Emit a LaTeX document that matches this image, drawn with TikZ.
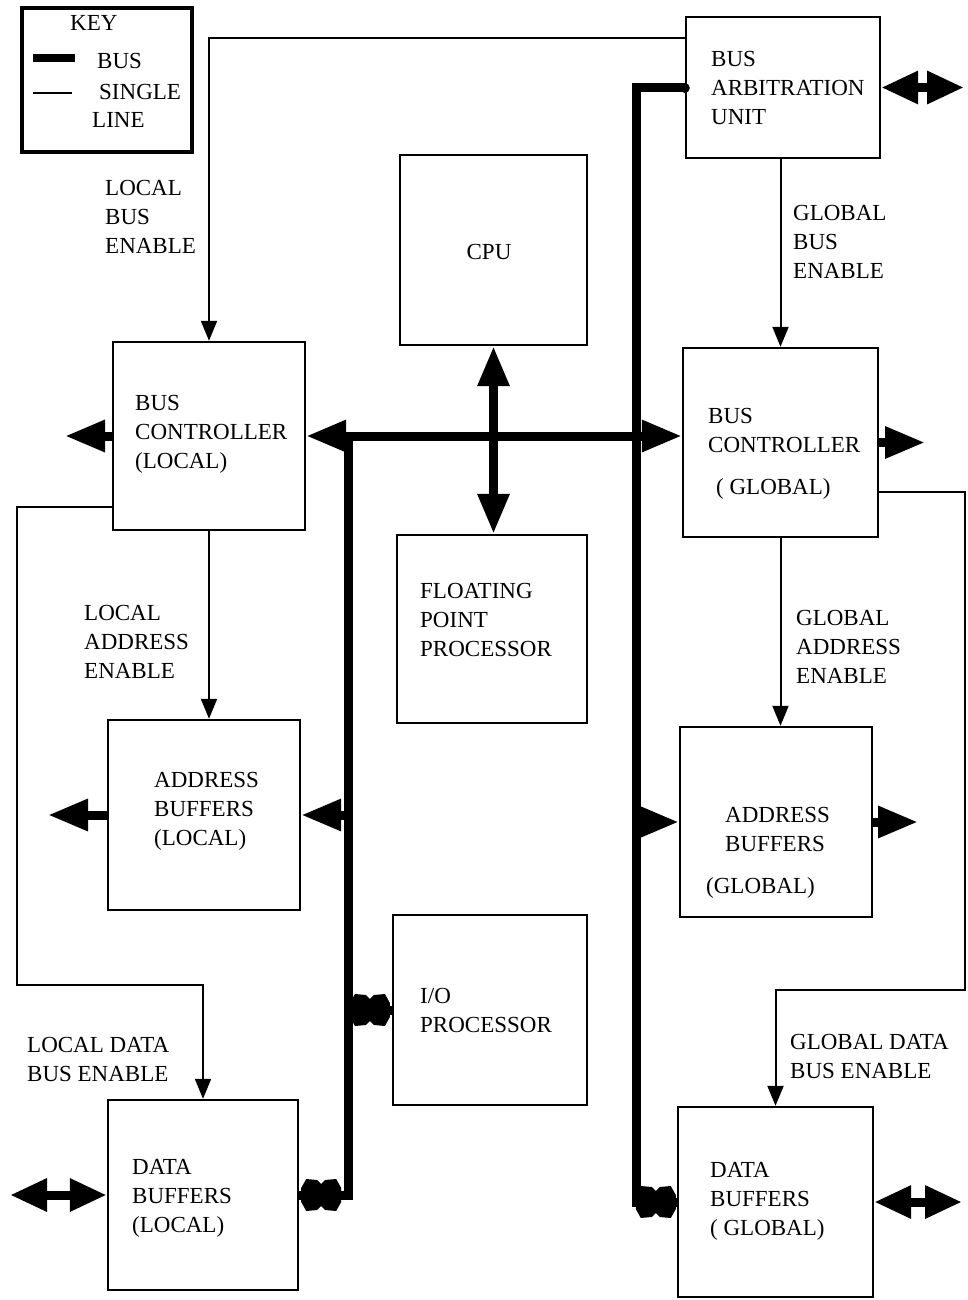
\documentclass[tikz,border=0pt]{standalone}
\usepackage{fontspec}
\setmainfont{Liberation Serif}
\usetikzlibrary{arrows.meta,calc}
\begin{document}
\begin{tikzpicture}[x=1pt,y=-1pt,
  box/.style={draw, line width=2.4pt, inner sep=0pt},
  keybox/.style={draw, line width=4.5pt, inner sep=0pt},
  lbl/.style={inner sep=0pt, anchor=north west, align=left, font=\fontsize{23}{29}\selectfont},
  sig/.style={line width=2pt},
  sigarrow/.style={sig, -{Triangle[length=20pt,width=16pt]}},
  bus/.style={line width=9pt},
  bigtip/.tip={Triangle[length=40pt,width=30pt]},
  dbltip/.tip={Triangle[length=37pt,width=31pt]},
  bowtie/.pic={\fill (-20,-7) -- (-15,-16) -- (-4,-15) -- (0,-11) -- (4,-15) -- (15,-16) -- (20,-7)
                   -- (20,7) -- (15,16) -- (4,15) -- (0,11) -- (-4,15) -- (-15,16) -- (-20,7) -- cycle;}
]
\useasboundingbox (0,0) rectangle (967,1300);

% ---------- key ----------
\node[keybox, minimum width=170pt, minimum height=144pt] (key) at (107,80) {};
\node[lbl] (keyT) at (70,15) {KEY};
\coordinate (keyBusA) at (33,58);
\coordinate (keyBusB) at (75,58);
\coordinate (keySigA) at (33,93);
\coordinate (keySigB) at (72,93);
\draw[line width=8pt] (keyBusA) -- (keyBusB);
\draw[sig] (keySigA) -- (keySigB);
\node[lbl] (keyBus) at (97,53.4) {BUS};
\node[lbl] (keySingle) at (99,84.5) {SINGLE};
\node[lbl] (keyLine) at (92,112) {LINE};

% ---------- blocks ----------
\node[box, minimum width=194pt, minimum height=141pt] (bau) at (783,87.5) {};
\node[box, minimum width=187pt, minimum height=190pt] (cpu) at (493.5,250) {};
\node[box, minimum width=190pt, minimum height=188pt] (fpp) at (492,629) {};
\node[box, minimum width=194pt, minimum height=190pt] (iop) at (490,1010) {};
\node[box, minimum width=192pt, minimum height=188pt] (bcl) at (209,436) {};
\node[box, minimum width=192pt, minimum height=190pt] (abl) at (204,815) {};
\node[box, minimum width=190pt, minimum height=190pt] (dbl) at (203,1195) {};
\node[box, minimum width=195pt, minimum height=189pt] (bcg) at (780.5,442.5) {};
\node[box, minimum width=192pt, minimum height=190pt] (abg) at (776,822) {};
\node[box, minimum width=195pt, minimum height=190pt] (dbg) at (775.5,1202) {};

% ---------- block texts ----------
\node[lbl] (bauT) at (711,51.4) {BUS\\ARBITRATION\\UNIT};
\node[inner sep=0pt, font=\fontsize{23}{29}\selectfont] (cpuT) at (489,252) {CPU};
\node[lbl] (fppT) at (420,583.4) {FLOATING\\POINT\\PROCESSOR};
\node[lbl] (iopT) at (420,988.4) {I/O\\PROCESSOR};
\node[lbl] (bclT) at (135,395.4) {BUS\\CONTROLLER\\(LOCAL)};
\node[lbl] (ablT) at (154,772.4) {ADDRESS\\BUFFERS\\(LOCAL)};
\node[lbl] (dblT) at (132,1159.4) {DATA\\BUFFERS\\(LOCAL)};
\node[lbl] (bcgT) at (708,408.4) {BUS\\CONTROLLER};
\node[lbl] (bcgT2) at (716,478.4) {( GLOBAL)};
\node[lbl] (abgT) at (725,807.4) {ADDRESS\\BUFFERS};
\node[lbl] (abgT2) at (706,877.4) {(GLOBAL)};
\node[lbl] (dbgT) at (710,1162.4) {DATA\\BUFFERS\\( GLOBAL)};

% ---------- signal labels ----------
\node[lbl] (lbeT) at (105,180.4) {LOCAL\\BUS\\ENABLE};
\node[lbl] (gbeT) at (793,205.4) {GLOBAL\\BUS\\ENABLE};
\node[lbl] (laeT) at (84,605.4) {LOCAL\\ADDRESS\\ENABLE};
\node[lbl] (gaeT) at (796,610.4) {GLOBAL\\ADDRESS\\ENABLE};
\node[lbl] (ldeT) at (27,1037.4) {LOCAL DATA\\BUS ENABLE};
\node[lbl] (gdeT) at (790,1034.4) {GLOBAL DATA\\BUS ENABLE};

% ---------- single-line enables ----------
\coordinate (lbeY) at (0,38);
\draw[sigarrow] (bau.west |- lbeY) -| (bcl.north);
\draw[sigarrow] (bau.south -| bcg.north) -- (bcg.north);
\draw[sigarrow] (bcl.south) -- (bcl.south |- abl.north);
\draw[sigarrow] (bcg.south) -- (bcg.south |- abg.north);
\coordinate (ldeA) at (17,507);
\coordinate (ldeB) at (17,985);
\draw[sigarrow] (bcl.west |- ldeA) -- (ldeA) -- (ldeB) -| (dbl.north);
\coordinate (gdeA) at (965,492);
\coordinate (gdeB) at (965,990);
\draw[sigarrow] (bcg.east |- gdeA) -- (gdeA) -- (gdeB) -| (dbg.north);

% ---------- buses ----------
\coordinate (lbTop) at (348,436);
\coordinate (rbTop) at (636,88);
\draw[bus, bigtip-bigtip] (bcl.east) -- (bcl.east -| bcg.west);
\draw[bus, bigtip-bigtip] (cpu.south) -- (cpu.south |- fpp.north);
\draw[bus] (lbTop) |- (dbl.east);
\draw[bus] (bau.west |- rbTop) -- (rbTop) |- (dbg.west);
\fill (bau.west |- rbTop) circle (5pt);
\draw[bus, -bigtip] (lbTop |- abl.east) -- (abl.east);
\draw[bus, -bigtip] (rbTop |- abg.west) -- (abg.west);
\draw[bus] (lbTop |- iop.west) -- (iop.west);
\pic at ($(lbTop |- iop.west)!0.5!(iop.west)$) {bowtie};
\pic at ([xshift=22pt]dbl.east) {bowtie};
\pic at ([xshift=-21pt]dbg.west) {bowtie};

% ---------- external connections ----------
\coordinate (bclOut) at (65,436);
\coordinate (bcgOut) at (925,442.5);
\coordinate (ablOut) at (48,815);
\coordinate (abgOut) at (918,822);
\coordinate (dblOut) at (10,1195);
\coordinate (dbgOut) at (962,1202);
\coordinate (bauOut) at (964,87.5);
\draw[bus, -bigtip] (bcl.west) -- (bclOut);
\draw[bus, -bigtip] (bcg.east) -- (bcgOut);
\draw[bus, -bigtip] (abl.west) -- (ablOut);
\draw[bus, -bigtip] (abg.east) -- (abgOut);
\draw[bus, dbltip-dbltip] (dbl.west) -- (dblOut);
\draw[bus, dbltip-dbltip] (dbg.east) -- (dbgOut);
\draw[bus, dbltip-dbltip] (bau.east) -- (bauOut);
\end{tikzpicture}
\end{document}
